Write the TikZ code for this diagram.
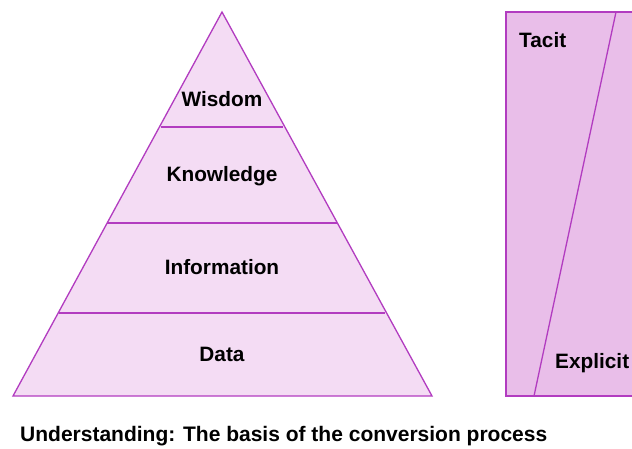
\documentclass[tikz,border=0pt]{standalone}
\usepackage{fontspec}
\setmainfont{Liberation Sans}
\begin{document}
\begin{tikzpicture}[x=1pt,y=-1pt,
  edge/.style={draw=strokec, line width=1.3pt, line join=miter},
  layerlabel/.style={font=\fontsize{20.8}{24}\selectfont\bfseries, text=black, inner sep=0pt},
  caption/.style={font=\fontsize{21}{24}\selectfont\bfseries, text=black, inner sep=0pt, anchor=west}]
\definecolor{strokec}{HTML}{B23CC0}
\definecolor{pyrfill}{HTML}{F4DCF4}
\definecolor{boxfill}{HTML}{E9BEE9}
\clip (0,0) rectangle (632,448);
\fill[white] (0,0) rectangle (632,448);
% pyramid
\coordinate (apex) at (222,12);
\coordinate (bl) at (13,396);
\coordinate (br) at (432,396);
\filldraw[edge, fill=pyrfill] (apex) -- (br) -- (bl) -- cycle;
\draw[edge] (161,127) -- (283,127);
\draw[edge] (107,223) -- (337,223);
\draw[edge] (59,313) -- (385,313);
\node[layerlabel] (wisdom) at (222,99) {Wisdom};
\node[layerlabel] (knowledge) at (222,176) {Knowledge};
\node[layerlabel] (information) at (222,267) {Information};
\node[layerlabel] (data) at (222,354) {Data};
% tacit / explicit panel
\filldraw[edge, fill=boxfill] (506,12) rectangle (650,396);
\draw[edge] (616,12) -- (534,396);
\node[layerlabel, anchor=west] (tacit) at (519,40) {Tacit};
\node[layerlabel, anchor=west] (explicit) at (555,363) {Explicit};
% caption
\node[caption] (cap) at (20,436) {Understanding: The basis of the conversion process};
\end{tikzpicture}
\end{document}
